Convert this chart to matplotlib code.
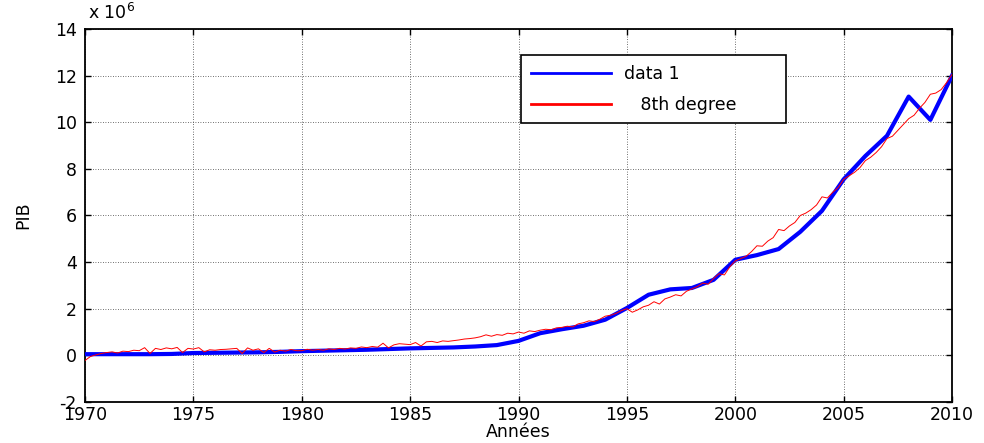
import numpy as np
import matplotlib
matplotlib.use("Agg")
import matplotlib.pyplot as plt

plt.rcParams["font.family"] = ["DejaVu Sans"]
plt.rcParams["mathtext.fontset"] = "dejavusans"
plt.rcParams["axes.unicode_minus"] = False

# annual series (data 1), PIB in millions
years = list(range(1970, 2011))
pib = [0.05, 0.05, 0.05, 0.05, 0.06, 0.10, 0.11, 0.12, 0.13, 0.15,
       0.18, 0.20, 0.22, 0.24, 0.27, 0.30, 0.32, 0.34, 0.38, 0.44,
       0.62, 0.95, 1.12, 1.27, 1.53, 2.03, 2.60, 2.83, 2.89, 3.24,
       4.10, 4.30, 4.56, 5.30, 6.20, 7.55, 8.55, 9.42, 11.10, 10.10,
       12.00]

# quarterly series (8th degree), 1970.00 .. 2010.00
fit_q = [
    -0.22, -0.05, 0.02, 0.08,   # 1970
    0.12, 0.15, 0.10, 0.18,     # 1971
    0.16, 0.22, 0.20, 0.33,     # 1972
    0.08, 0.30, 0.25, 0.32,     # 1973
    0.28, 0.34, 0.12, 0.30,     # 1974
    0.27, 0.33, 0.15, 0.24,     # 1975
    0.22, 0.25, 0.26, 0.28,     # 1976
    0.30, 0.08, 0.32, 0.22,     # 1977
    0.28, 0.12, 0.30, 0.14,     # 1978
    0.22, 0.18, 0.25, 0.20,     # 1979
    0.20, 0.26, 0.22, 0.25,     # 1980
    0.22, 0.28, 0.25, 0.30,     # 1981
    0.27, 0.32, 0.30, 0.36,     # 1982
    0.33, 0.38, 0.35, 0.52,     # 1983
    0.32, 0.45, 0.50, 0.48,     # 1984
    0.46, 0.55, 0.40, 0.58,     # 1985
    0.60, 0.55, 0.62, 0.60,     # 1986
    0.63, 0.66, 0.70, 0.72,     # 1987
    0.75, 0.80, 0.88, 0.82,     # 1988
    0.89, 0.86, 0.95, 0.92,     # 1989
    1.00, 0.95, 1.05, 1.02,     # 1990
    1.08, 1.12, 1.10, 1.18,     # 1991
    1.20, 1.25, 1.22, 1.35,     # 1992
    1.40, 1.48, 1.45, 1.55,     # 1993
    1.68, 1.72, 1.80, 1.92,     # 1994
    2.00, 1.85, 1.95, 2.08,     # 1995
    2.15, 2.30, 2.20, 2.42,     # 1996
    2.50, 2.60, 2.55, 2.75,     # 1997
    2.85, 2.95, 3.10, 3.05,     # 1998
    3.30, 3.50, 3.45, 3.80,     # 1999
    4.05, 4.15, 4.25, 4.45,     # 2000
    4.70, 4.68, 4.90, 5.05,     # 2001
    5.40, 5.35, 5.55, 5.70,     # 2002
    6.00, 6.10, 6.25, 6.45,     # 2003
    6.80, 6.75, 7.00, 7.20,     # 2004
    7.55, 7.70, 7.85, 8.05,     # 2005
    8.35, 8.50, 8.70, 8.95,     # 2006
    9.30, 9.40, 9.65, 9.90,     # 2007
    10.15, 10.30, 10.60, 10.85, # 2008
    11.20, 11.25, 11.40, 11.70, # 2009
    12.05,                      # 2010
]
fit_t = 1970 + 0.25 * np.arange(len(fit_q))

fig = plt.figure(figsize=(9.84, 4.43), dpi=100)
ax = fig.add_axes([0.0864, 0.0926, 0.8811, 0.842])

ax.plot(years, pib, color="#0000ff", lw=3, label="data 1", zorder=3)
ax.plot(fit_t, fit_q, color="#ff0000", lw=0.7, label="   8th degree", zorder=4)

ax.set_xlim(1970, 2010)
ax.set_ylim(-2, 14)
ax.set_xticks(range(1970, 2011, 5))
ax.set_yticks(range(-2, 15, 2))
ax.tick_params(direction="in", length=4, width=1, labelsize=12.5, pad=3,
               top=True, right=True)
ax.tick_params(axis="y", pad=6)
ax.grid(True, color="0.25", linestyle=(0, (1, 2)), lw=0.6)
for s in ax.spines.values():
    s.set_linewidth(1.3)

ax.set_ylabel("PIB", fontsize=12.5, labelpad=16)
ax.set_xlabel("Années", fontsize=12.5, labelpad=-1)
ax.text(0.003, 1.015, r"x 10$^{6}$", transform=ax.transAxes, fontsize=12.5,
        ha="left", va="bottom")

leg = ax.legend(loc="upper left", bbox_to_anchor=(0.503, 0.756, 0.306, 0.174),
                mode="expand", borderaxespad=0, fontsize=12.5,
                handlelength=4.6, labelspacing=0.75, borderpad=0.55,
                fancybox=False, framealpha=1, edgecolor="black")
leg.get_frame().set_linewidth(1.2)
for ln in leg.get_lines():
    ln.set_linewidth(2)

fig.savefig("out.png", dpi=100)
